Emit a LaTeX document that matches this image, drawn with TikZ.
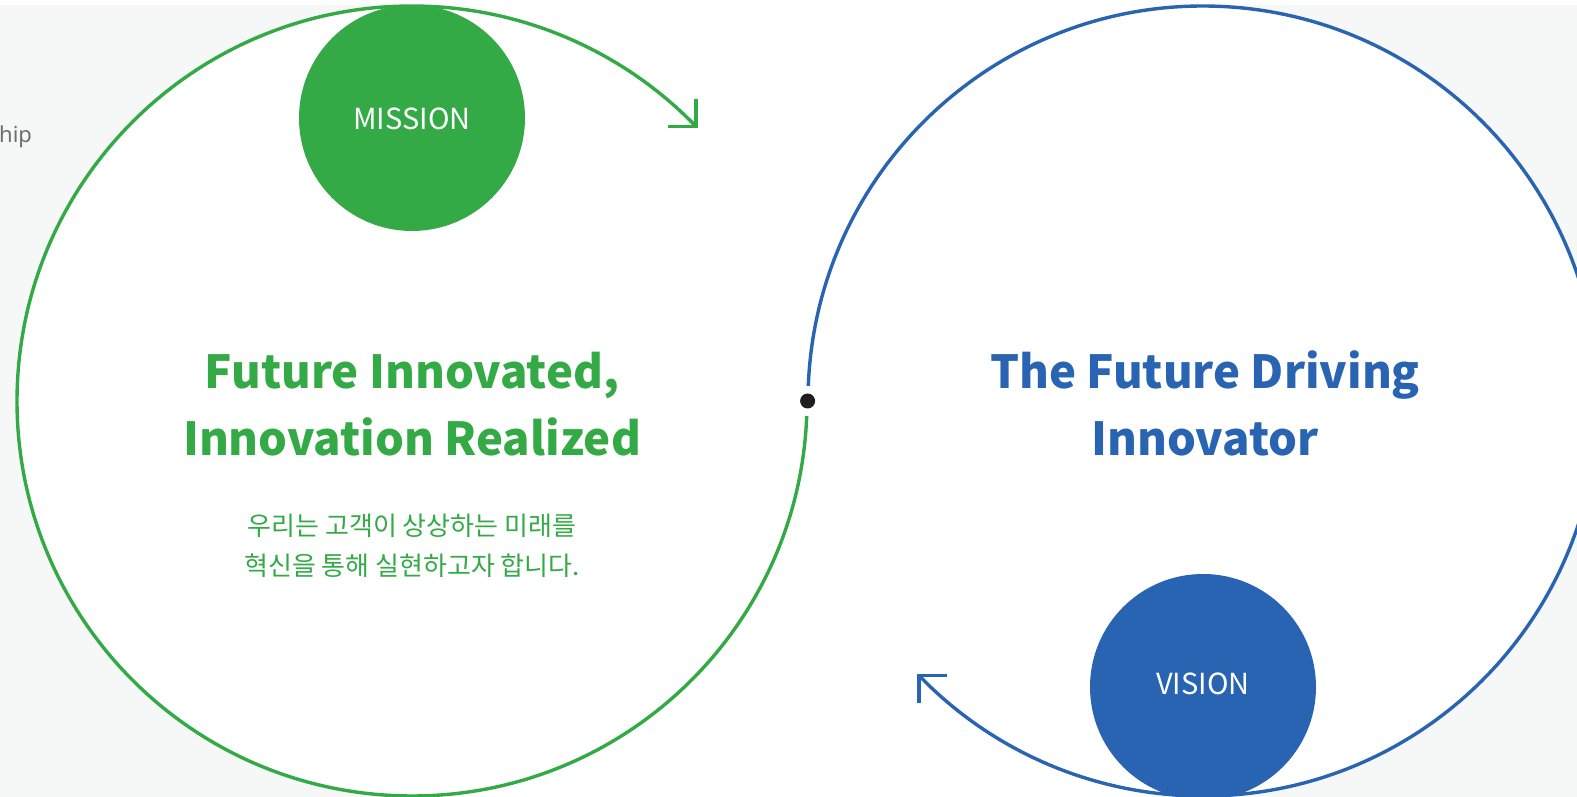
\documentclass[tikz,border=0pt]{standalone}
\usepackage{fontspec}
\setmainfont{Noto Sans CJK KR}
\newfontfamily\hipfont{Noto Sans}
\definecolor{mgreen}{HTML}{34AA46}
\definecolor{mblue}{HTML}{2964B2}
\definecolor{bggray}{HTML}{F6F8F8}
\definecolor{dotc}{HTML}{1E1E1E}
\definecolor{hipgray}{HTML}{6E6E6E}
\tikzset{
  bigdisc/.style={circle, fill=white, minimum size=790pt, inner sep=0pt},
  smalldisc/.style={circle, minimum size=226pt, inner sep=0pt},
  disclabel/.style={text=white, font=\fontsize{29}{33}\selectfont, anchor=base, inner sep=0pt},
  garc/.style={draw=mgreen, line width=3.4pt},
  barc/.style={draw=mblue, line width=3.4pt},
  gtitle/.style={text=mgreen, font=\fontsize{45.5}{54}\selectfont\bfseries, anchor=base, inner sep=0pt},
  btitle/.style={text=mblue, font=\fontsize{45.5}{54}\selectfont\bfseries, anchor=base, inner sep=0pt},
  kor/.style={text=mgreen, font=\fontsize{26}{30}\selectfont, anchor=center, inner sep=0pt},
}
\begin{document}
\begin{tikzpicture}[x=1pt,y=1pt]
\useasboundingbox (0,0) rectangle (1577,797);
% background
\fill[bggray] (0,0) rectangle (1577,792);
\fill[white] (0,792) rectangle (1577,797);
\fill[white] (412,0) rectangle (1203,797);
% big discs
\node[bigdisc] (L) at (412,396) {};
\node[bigdisc] (R) at (1203,396) {};
% arcs
\coordinate (gstart) at ([shift={(-2.2:395pt)}]L.center);
\coordinate (gtip) at ([shift={(44:395pt)}]L.center);
\coordinate (bstart) at ([shift={(177.8:395pt)}]R.center);
\coordinate (btip) at ([shift={(224:395pt)}]R.center);
\draw[garc] (gstart) arc[start angle=-2.2, end angle=-316, radius=395pt];
\draw[barc] (bstart) arc[start angle=177.8, end angle=-136, radius=395pt];
\draw[garc, line join=miter] ([xshift=-28pt]gtip) -- (gtip) -- ([yshift=28pt]gtip);
\draw[barc, line join=miter] ([xshift=28pt]btip) -- (btip) -- ([yshift=-28pt]btip);
% small discs
\node[smalldisc, fill=mgreen] (M) at (412,679) {};
\node[smalldisc, fill=mblue] (V) at (1203,110) {};
\node[disclabel] (Mt) at (412,667) {MISSION};
\node[disclabel] (Vt) at (1203,102) {VISION};
% junction dot
\node[circle, fill=dotc, minimum size=15pt, inner sep=0pt] (D) at (807.6,396) {};
% titles
\node[gtitle] (g1) at (412,408) {Future Innovated,};
\node[gtitle] (g2) at (412,341) {Innovation Realized};
\node[btitle] (b1) at (1205,408) {The Future Driving};
\node[btitle] (b2) at (1205,341) {Innovator};
% korean text
\node[kor] (k1) at (412,271) {우리는 고객이 상상하는 미래를};
\node[kor] (k2) at (412,231) {혁신을 통해 실현하고자 합니다.};
% cut text at left
\node[text=hipgray, font=\hipfont\fontsize{22}{26}\selectfont, anchor=base west, inner sep=0pt] (hip) at (-1,654) {hip};
\end{tikzpicture}
\end{document}
